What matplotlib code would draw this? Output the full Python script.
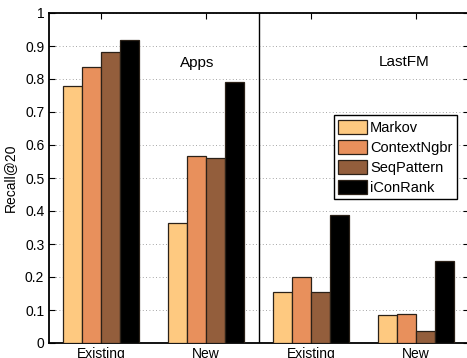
import numpy as np
import matplotlib
matplotlib.use('Agg')
import matplotlib.pyplot as plt

plt.rcParams['font.family'] = ['Liberation Sans', 'DejaVu Sans']

# recall@20 per method, groups: Apps-Existing, Apps-New, LastFM-Existing, LastFM-New
groups = ['Existing', 'New', 'Existing', 'New']
methods = ['Markov', 'ContextNgbr', 'SeqPattern', 'iConRank']
markov = [0.779, 0.365, 0.155, 0.084]
context_ngbr = [0.837, 0.567, 0.201, 0.089]
seq_pattern = [0.881, 0.561, 0.154, 0.037]
iconrank = [0.918, 0.792, 0.388, 0.250]
colors = ['#FEC980', '#E8905C', '#935E3C', '#000000']

fig = plt.figure(figsize=(4.67, 3.58), dpi=100)
ax = fig.add_axes([48.5/467, 15/358, 420/467, 330/358])

x = np.arange(1, 5)
w = 0.18
series = [markov, context_ngbr, seq_pattern, iconrank]
for i, (vals, c, name) in enumerate(zip(series, colors, methods)):
    ax.bar(x + (i - 1.5) * w, vals, w, color=c, edgecolor='#2b2118',
           linewidth=0.9, label=name, zorder=3)

ax.axvline(2.5, color='black', linewidth=1.0, zorder=4)

ax.set_xlim(0.5, 4.5)
ax.set_ylim(0, 1)
ax.set_xticks(x)
ax.set_xticklabels(groups)
ax.set_yticks(np.arange(0, 1.01, 0.1))
ax.set_yticklabels(['0'] + ['%.1f' % v for v in np.arange(0.1, 0.95, 0.1)] + ['1'])
ax.tick_params(direction='in', length=4, width=0.8, labelsize=10,
               top=True, right=True, pad=3)
ax.yaxis.grid(True, linestyle=(0, (1, 3)), color='#888888', linewidth=0.6, zorder=0)
ax.set_axisbelow(True)
for s in ax.spines.values():
    s.set_linewidth(1.3)

ax.set_ylabel('Recall@20', fontsize=10, labelpad=6)

ax.text(1.92, 0.85, 'Apps', fontsize=11, ha='center', va='center')
ax.text(3.89, 0.85, 'LastFM', fontsize=11, ha='center', va='center')

leg = ax.legend(loc='upper right', bbox_to_anchor=(0.972, 0.69), borderaxespad=0,
                fontsize=10.5, handlelength=2.0, handleheight=1.1, labelspacing=0.35,
                handletextpad=0.2, borderpad=0.3, fancybox=False, framealpha=1)
leg.get_frame().set_edgecolor('black')
leg.get_frame().set_linewidth(1.0)

fig.savefig('out.png', dpi=100)
